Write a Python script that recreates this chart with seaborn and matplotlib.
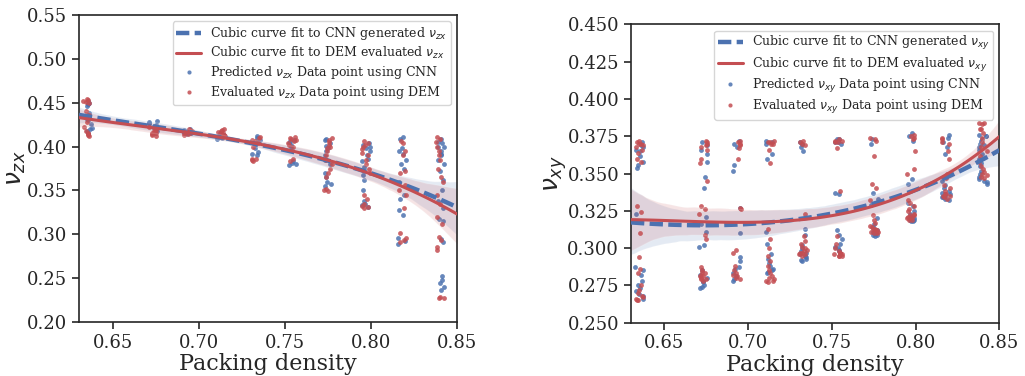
import numpy as np
import pandas as pd
import seaborn as sns
import matplotlib.pyplot as plt
from matplotlib.lines import Line2D

# packing density of each sample group
density = [0.635, 0.673, 0.693, 0.713, 0.733, 0.754, 0.775, 0.797, 0.818, 0.840]

# nu_zx values read per density group
zx_cnn = [
    [0.452, 0.450, 0.449, 0.448, 0.446, 0.438, 0.432, 0.426, 0.421, 0.418, 0.420, 0.416, 0.430],
    [0.429, 0.428, 0.427, 0.426, 0.425, 0.424, 0.420, 0.418, 0.416, 0.422],
    [0.420, 0.419, 0.418, 0.417, 0.416, 0.415, 0.414],
    [0.415, 0.413, 0.411, 0.410, 0.409, 0.412],
    [0.412, 0.410, 0.408, 0.405, 0.402, 0.398, 0.394, 0.392, 0.390],
    [0.408, 0.406, 0.404, 0.402, 0.400, 0.383, 0.381, 0.380, 0.379],
    [0.409, 0.407, 0.404, 0.401, 0.398, 0.395, 0.390, 0.385, 0.380, 0.370, 0.365, 0.360, 0.357, 0.355],
    [0.404, 0.402, 0.400, 0.398, 0.395, 0.390, 0.386, 0.383, 0.377, 0.368, 0.362, 0.350, 0.338,
     0.335, 0.333, 0.331],
    [0.411, 0.409, 0.398, 0.395, 0.392, 0.385, 0.380, 0.375, 0.360, 0.345, 0.340, 0.328, 0.322,
     0.296, 0.292, 0.289],
    [0.409, 0.405, 0.404, 0.400, 0.399, 0.395, 0.392, 0.390, 0.385, 0.380, 0.372, 0.362, 0.350,
     0.338, 0.330, 0.318, 0.315, 0.295, 0.291, 0.252, 0.248, 0.245, 0.240, 0.236],
]
zx_dem = [
    [0.454, 0.453, 0.452, 0.451, 0.450, 0.440, 0.436, 0.428, 0.422, 0.418, 0.416, 0.414, 0.413, 0.412],
    [0.418, 0.416, 0.415, 0.414, 0.413, 0.412, 0.417, 0.420, 0.422, 0.419],
    [0.420, 0.418, 0.417, 0.416, 0.415, 0.414, 0.413, 0.419],
    [0.420, 0.419, 0.418, 0.417, 0.416, 0.415, 0.413, 0.412],
    [0.411, 0.410, 0.408, 0.406, 0.404, 0.400, 0.386, 0.385, 0.384, 0.386],
    [0.411, 0.410, 0.409, 0.408, 0.406, 0.404, 0.402, 0.400, 0.386, 0.384],
    [0.410, 0.408, 0.405, 0.402, 0.400, 0.398, 0.395, 0.390, 0.385, 0.380, 0.375, 0.370, 0.365,
     0.352, 0.350, 0.349],
    [0.406, 0.404, 0.402, 0.400, 0.397, 0.393, 0.390, 0.385, 0.380, 0.375, 0.370, 0.345, 0.340,
     0.334, 0.332, 0.331, 0.330],
    [0.406, 0.404, 0.395, 0.390, 0.372, 0.370, 0.356, 0.350, 0.345, 0.330, 0.301, 0.296, 0.293, 0.291],
    [0.411, 0.409, 0.405, 0.400, 0.395, 0.390, 0.385, 0.375, 0.365, 0.360, 0.345, 0.335, 0.320,
     0.312, 0.297, 0.293, 0.285, 0.282, 0.228, 0.227, 0.227],
]

# nu_xy values read per density group
xy_cnn = [
    [0.371, 0.369, 0.368, 0.366, 0.365, 0.362, 0.358, 0.356, 0.354, 0.323, 0.287, 0.285, 0.282,
     0.278, 0.275, 0.273, 0.271, 0.269, 0.268, 0.266],
    [0.371, 0.369, 0.366, 0.363, 0.358, 0.348, 0.340, 0.321, 0.316, 0.311, 0.302, 0.301, 0.285,
     0.282, 0.280, 0.278, 0.277, 0.275, 0.274, 0.273],
    [0.372, 0.370, 0.368, 0.356, 0.352, 0.327, 0.310, 0.294, 0.291, 0.287, 0.286, 0.283, 0.281,
     0.279, 0.278],
    [0.372, 0.371, 0.370, 0.363, 0.360, 0.311, 0.303, 0.296, 0.293, 0.290, 0.288, 0.286, 0.285,
     0.284, 0.283],
    [0.371, 0.370, 0.368, 0.365, 0.313, 0.309, 0.302, 0.300, 0.298, 0.297, 0.296, 0.295, 0.294,
     0.293, 0.292, 0.291],
    [0.373, 0.373, 0.372, 0.372, 0.371, 0.371, 0.370, 0.337, 0.336, 0.312, 0.309, 0.306, 0.303,
     0.301, 0.300, 0.299, 0.298, 0.297],
    [0.373, 0.370, 0.337, 0.333, 0.329, 0.320, 0.316, 0.314, 0.312, 0.311, 0.310, 0.309, 0.309, 0.308],
    [0.377, 0.375, 0.372, 0.346, 0.343, 0.330, 0.328, 0.325, 0.323, 0.321, 0.320, 0.319, 0.319,
     0.318, 0.318],
    [0.376, 0.374, 0.371, 0.368, 0.363, 0.345, 0.342, 0.340, 0.338, 0.337, 0.336, 0.336, 0.335,
     0.334, 0.334, 0.333, 0.332],
    [0.376, 0.375, 0.375, 0.373, 0.372, 0.370, 0.369, 0.368, 0.366, 0.363, 0.360, 0.357, 0.355,
     0.352, 0.350, 0.348, 0.346, 0.345, 0.344, 0.343],
]
xy_dem = [
    [0.372, 0.371, 0.370, 0.370, 0.369, 0.368, 0.366, 0.364, 0.360, 0.358, 0.328, 0.324, 0.310,
     0.294, 0.286, 0.283, 0.275, 0.272, 0.270, 0.268, 0.267, 0.266, 0.265, 0.265],
    [0.372, 0.371, 0.370, 0.369, 0.368, 0.366, 0.360, 0.357, 0.345, 0.328, 0.326, 0.323, 0.309,
     0.306, 0.287, 0.285, 0.284, 0.283, 0.282, 0.281, 0.281, 0.280, 0.279, 0.279, 0.278],
    [0.372, 0.371, 0.370, 0.369, 0.367, 0.360, 0.327, 0.326, 0.299, 0.297, 0.288, 0.285, 0.283,
     0.282, 0.281, 0.280, 0.279],
    [0.372, 0.371, 0.371, 0.370, 0.370, 0.366, 0.357, 0.313, 0.306, 0.300, 0.295, 0.291, 0.288,
     0.285, 0.283, 0.281, 0.280, 0.279, 0.278, 0.278, 0.277],
    [0.372, 0.371, 0.370, 0.369, 0.323, 0.308, 0.305, 0.303, 0.301, 0.300, 0.299, 0.298, 0.297,
     0.297, 0.296, 0.296, 0.295],
    [0.373, 0.372, 0.372, 0.371, 0.371, 0.367, 0.338, 0.308, 0.303, 0.300, 0.298, 0.297, 0.297,
     0.296, 0.296, 0.296, 0.295, 0.295, 0.295],
    [0.374, 0.373, 0.372, 0.362, 0.343, 0.340, 0.332, 0.322, 0.319, 0.317, 0.315, 0.314, 0.313,
     0.313, 0.312, 0.312, 0.311, 0.311, 0.310, 0.310],
    [0.376, 0.375, 0.374, 0.373, 0.365, 0.353, 0.350, 0.332, 0.330, 0.328, 0.326, 0.325, 0.323,
     0.322, 0.322, 0.321, 0.321, 0.320, 0.320, 0.319, 0.319],
    [0.374, 0.373, 0.371, 0.370, 0.365, 0.360, 0.350, 0.347, 0.342, 0.340, 0.338, 0.336, 0.336,
     0.335, 0.335, 0.334, 0.333],
    [0.384, 0.384, 0.383, 0.380, 0.380, 0.377, 0.374, 0.371, 0.368, 0.365, 0.362, 0.358, 0.355,
     0.353, 0.351, 0.350, 0.349, 0.348, 0.347],
]


def to_frame(groups):
    rows = [(d, v) for d, vals in zip(density, groups) for v in vals]
    return pd.DataFrame(rows, columns=['density', 'nu'])


sns.set_theme(style='ticks')
plt.rcParams['font.family'] = ['DejaVu Serif']
plt.rcParams['mathtext.fontset'] = 'dejavusans'

blue = sns.color_palette('deep')[0]
red = sns.color_palette('deep')[3]
np.random.seed(0)

fig = plt.figure(figsize=(10.25, 3.76), dpi=100)
ax1 = fig.add_axes([0.077, 0.1436, 0.369, 0.8165])
ax2 = fig.add_axes([0.6156, 0.142, 0.3594, 0.793])

panels = [
    (ax1, zx_cnn, zx_dem, 'zx', (0.20, 0.55), np.arange(0.20, 0.551, 0.05), '{:.2f}', -0.135),
    (ax2, xy_cnn, xy_dem, 'xy', (0.25, 0.45), np.arange(0.25, 0.451, 0.025), '{:.3f}', -0.168),
]

for ax, cnn, dem, sub, ylim, yticks, fmt, ylab_x in panels:
    ax.set_xlim(0.63, 0.85)
    ax.set_ylim(*ylim)
    sns.regplot(data=to_frame(cnn), x='density', y='nu', order=3, ax=ax, truncate=False,
                x_jitter=0.0025, color=blue, seed=1,
                scatter_kws={'s': 12, 'alpha': 0.85, 'linewidths': 0},
                line_kws={'lw': 3.2, 'dashes': (3, 1.2), 'zorder': 4})
    sns.regplot(data=to_frame(dem), x='density', y='nu', order=3, ax=ax, truncate=False,
                x_jitter=0.0025, color=red, seed=2,
                scatter_kws={'s': 12, 'alpha': 0.85, 'linewidths': 0},
                line_kws={'lw': 2.2, 'zorder': 5})
    ax.set_xlim(0.63, 0.85)
    ax.set_ylim(*ylim)
    xt = [0.65, 0.70, 0.75, 0.80, 0.85]
    ax.set_xticks(xt)
    ax.set_xticklabels(['{:.2f}'.format(t) for t in xt])
    ax.set_yticks(yticks)
    ax.set_yticklabels([fmt.format(t) for t in yticks])
    ax.tick_params(labelsize=13, width=1.2, length=5)
    ax.set_xlabel('Packing density', fontsize=16, labelpad=1)
    ax.set_ylabel(rf'$\nu_{{{sub}}}$', fontsize=18)
    ax.yaxis.set_label_coords(ylab_x, 0.5)
    for s in ax.spines.values():
        s.set_linewidth(1.2)

    handles = [
        Line2D([], [], color=blue, lw=3.2, dashes=(3, 1.2)),
        Line2D([], [], color=red, lw=2.2),
        Line2D([], [], color=blue, ls='', marker='o', ms=3, alpha=0.85, mew=0),
        Line2D([], [], color=red, ls='', marker='o', ms=3, alpha=0.85, mew=0),
    ]
    labels = [rf'Cubic curve fit to CNN generated $\nu_{{{sub}}}$',
              rf'Cubic curve fit to DEM evaluated $\nu_{{{sub}}}$',
              rf'Predicted $\nu_{{{sub}}}$ Data point using CNN',
              rf'Evaluated $\nu_{{{sub}}}$ Data point using DEM']
    ax.legend(handles, labels, loc='upper right', fontsize=9, handlelength=2.0,
              labelspacing=0.25, borderpad=0.3, handletextpad=0.7)

fig.savefig('out.png', dpi=100)
